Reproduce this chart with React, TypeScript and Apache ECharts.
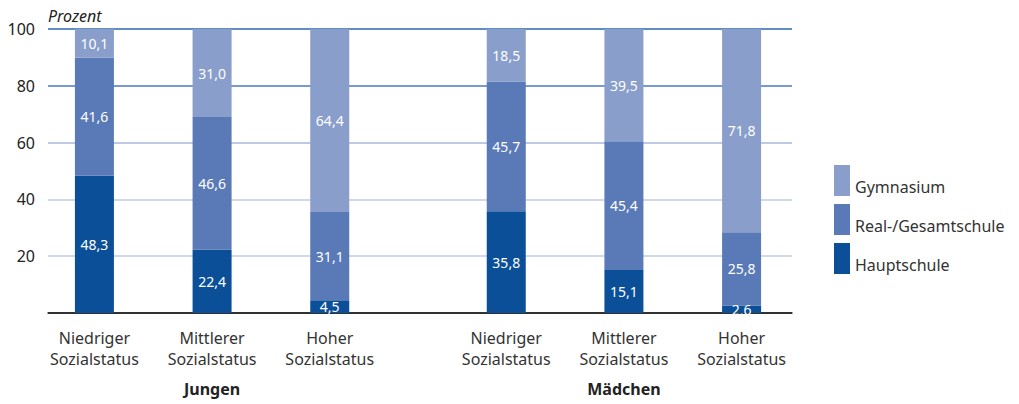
import React, { useEffect, useRef } from "react";
import * as echarts from "echarts";

const groups = ["Jungen", "Mädchen"];
const statusLabels = ["Niedriger\nSozialstatus", "Mittlerer\nSozialstatus", "Hoher\nSozialstatus"];
const seriesNames = ["Hauptschule", "Real-/Gesamtschule", "Gymnasium"];
// values per group: [Niedriger, Mittlerer, Hoher]
const hauptschule = [[48.3, 22.4, 4.5], [35.8, 15.1, 2.6]];
const realschule = [[41.6, 46.6, 31.1], [45.7, 45.4, 25.8]];
const gymnasium = [[10.1, 31.0, 64.4], [18.5, 39.5, 71.8]];

const colors = ["#0b4f98", "#5a79b7", "#899ecb"];
const gridColors = ["#333333", "#c2cbe3", "#c2cbe3", "#a9b8db", "#4a7ac2", "#2c69ae"];

const FONT = "Noto Sans";
const SLOTS = 12;
const slotOf = (g: number, i: number) => g * 7 + i * 2;

function buildSlots<T>(fn: (g: number, i: number) => T, empty: T): T[] {
  const arr: T[] = new Array(SLOTS).fill(empty);
  groups.forEach((_, g) => statusLabels.forEach((__, i) => { arr[slotOf(g, i)] = fn(g, i); }));
  return arr;
}

export default function App() {
  const ref = useRef<HTMLDivElement>(null);
  useEffect(() => {
    if (!ref.current) return;
    const chart = echarts.init(ref.current, null, { renderer: "svg" });
    const catData = buildSlots((g, i) => statusLabels[i], "");
    const groupData = new Array(SLOTS).fill("");
    groups.forEach((name, g) => { groupData[slotOf(g, 1)] = name; });
    const dataSets = [hauptschule, realschule, gymnasium];
    const fmt = (v: number) => v.toFixed(1).replace(".", ",");
    chart.setOption({
      animation: false,
      textStyle: { fontFamily: FONT },
      grid: [
        { left: 65, width: 706, top: 29, bottom: 91 },
        { left: 48, right: 227, top: 29, bottom: 91 },
      ],
      legend: {
        orient: "vertical",
        left: 829,
        top: 160,
        itemWidth: 16,
        itemHeight: 31,
        itemGap: 8,
        icon: "rect",
        data: ["Gymnasium", "Real-/Gesamtschule", "Hauptschule"],
        formatter: (n: string) => `{t|${n}}`,
        textStyle: {
          fontFamily: FONT,
          fontSize: 16,
          color: "#333",
          rich: { t: { fontFamily: FONT, fontSize: 16, color: "#333", padding: [13, 0, 0, 0] } },
        },
      },
      xAxis: [
        {
          type: "category",
          gridIndex: 0,
          data: catData,
          position: "bottom",
          axisLine: { show: false },
          axisTick: { show: false },
          axisLabel: { interval: 0, fontFamily: FONT, fontSize: 16, lineHeight: 21, color: "#333", margin: 14 },
        },
        {
          type: "category",
          gridIndex: 0,
          data: groupData,
          position: "bottom",
          axisLine: { show: false },
          axisTick: { show: false },
          axisLabel: { interval: 0, fontFamily: FONT, fontSize: 16, fontWeight: "bold", lineHeight: 20, color: "#222", margin: 66 },
        },
        {
          type: "value",
          gridIndex: 1,
          min: 0,
          max: 1,
          axisLine: { show: true, lineStyle: { color: "#222", width: 1.5 } },
          axisTick: { show: false },
          axisLabel: { show: false },
          splitLine: { show: false },
        },
      ],
      yAxis: [
        { type: "value", gridIndex: 0, min: 0, max: 100, show: false },
        {
          type: "value",
          gridIndex: 1,
          min: 0,
          max: 100,
          interval: 20,
          name: "Prozent",
          nameLocation: "end",
          nameGap: 5,
          nameTextStyle: { fontFamily: FONT, fontSize: 16, fontStyle: "italic", color: "#222", align: "left" },
          axisLine: { show: false },
          axisTick: { show: false },
          axisLabel: {
            fontFamily: FONT,
            fontSize: 16,
            color: "#222",
            margin: 13,
            formatter: (v: number) => (v === 0 ? "" : String(v)),
          },
          splitLine: { show: true, lineStyle: { color: gridColors, width: 1.5 } },
        },
      ],
      series: seriesNames.map((name, s) => ({
        name,
        type: "bar",
        stack: "total",
        xAxisIndex: 0,
        yAxisIndex: 0,
        barWidth: 39,
        itemStyle: { color: colors[s] },
        label: {
          show: true,
          position: "inside",
          color: "#fff",
          fontFamily: FONT,
          fontSize: 14,
          formatter: (p: any) => fmt(p.value),
        },
        data: buildSlots((g, i) => dataSets[s][g][i], "-" as any),
      })),
    });
    return () => chart.dispose();
  }, []);
  return (
    <div
      ref={ref}
      style={{ position: "absolute", left: 0, top: 0, width: 1019, height: 404 }}
    />
  );
}
